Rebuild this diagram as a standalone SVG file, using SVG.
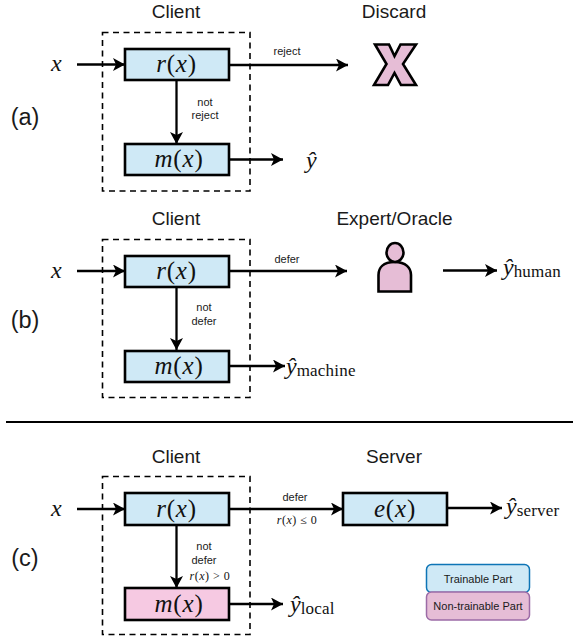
<svg xmlns="http://www.w3.org/2000/svg" width="573" height="636" viewBox="0 0 573 636">
<style>
.t{font-family:"Liberation Sans",Arial,sans-serif;fill:#1a1a1a}
.h{font-size:19px;text-anchor:middle}
.p{font-size:23.500px;text-anchor:middle}
.s{font-size:11px;text-anchor:middle}
.m{font-family:"Liberation Serif","Times New Roman",serif;fill:#111}
.mi{font-style:italic}
.b{font-size:25px;text-anchor:middle;letter-spacing:.8px}
.sub{font-size:17px;letter-spacing:.2px}
.box{stroke:#000;stroke-width:2.6}
.blue{fill:#cfe9f6}
.pink{fill:#f6c9e2}
.dash{fill:none;stroke:#000;stroke-width:1.6;stroke-dasharray:6 4.5}
.c{fill:none;stroke:#000;stroke-width:2.3;marker-end:url(#a)}
.sh{fill:#e6bdd6;stroke:#000;stroke-width:2.6;stroke-linejoin:miter}
.cond{font-size:12px;text-anchor:middle;letter-spacing:.5px}
</style>
<defs>
<marker id="a" markerUnits="userSpaceOnUse" markerWidth="14" markerHeight="14" refX="12" refY="6.500" orient="auto">
<path d="M0 0L12 6.500L0 13L3 6.500Z" fill="#000"/>
</marker>
</defs>
<g id="connectors">
<path class="c" d="M77 64.500H125"/>
<path class="c" d="M229 65H348"/>
<path class="c" d="M176.500 80V144"/>
<path class="c" d="M229 159.500H283"/>
<path class="c" d="M77 271H125"/>
<path class="c" d="M229 271H347"/>
<path class="c" d="M176.500 287V350"/>
<path class="c" d="M229 366H285"/>
<path class="c" d="M443 270.500H497"/>
<path class="c" d="M77 509H125"/>
<path class="c" d="M229 509H343"/>
<path class="c" d="M176.500 525V588"/>
<path class="c" d="M229 604H283"/>
<path class="c" d="M447 508H502"/>
<path d="M6 422H573" stroke="#000" stroke-width="2" fill="none"/>
</g>
<g id="client-a"><rect class="dash" x="102.500" y="32.500" width="147.500" height="158.500"/><text class="t h" x="176" y="18">Client</text></g>
<g id="client-b"><rect class="dash" x="102.500" y="239.500" width="147.500" height="158"/><text class="t h" x="176" y="225">Client</text></g>
<g id="client-c"><rect class="dash" x="102.500" y="476.500" width="147.500" height="158"/><text class="t h" x="176" y="463">Client</text></g>
<g id="r-a"><rect class="box blue" x="125" y="49" width="104" height="31"/><text class="m b" x="176.500" y="72"><tspan class="mi">r</tspan>(<tspan class="mi">x</tspan>)</text></g>
<g id="m-a"><rect class="box blue" x="125" y="144" width="104" height="31"/><text class="m b" x="179" y="167"><tspan class="mi">m</tspan>(<tspan class="mi">x</tspan>)</text></g>
<g id="r-b"><rect class="box blue" x="125" y="256" width="104" height="31"/><text class="m b" x="176.500" y="279"><tspan class="mi">r</tspan>(<tspan class="mi">x</tspan>)</text></g>
<g id="m-b"><rect class="box blue" x="125" y="351" width="104" height="31"/><text class="m b" x="179" y="374"><tspan class="mi">m</tspan>(<tspan class="mi">x</tspan>)</text></g>
<g id="r-c"><rect class="box blue" x="125" y="493" width="104" height="32"/><text class="m b" x="176.500" y="517"><tspan class="mi">r</tspan>(<tspan class="mi">x</tspan>)</text></g>
<g id="m-c"><rect class="box pink" x="125" y="588" width="104" height="32"/><text class="m b" x="179" y="612"><tspan class="mi">m</tspan>(<tspan class="mi">x</tspan>)</text></g>
<g id="e-c"><rect class="box blue" x="343" y="493" width="104" height="32"/><text class="m b" x="395" y="517"><tspan class="mi">e</tspan>(<tspan class="mi">x</tspan>)</text></g>
<g id="discard"><text class="t h" x="394" y="18">Discard</text>
<path class="sh" d="M375 44.500H389L394.500 56L400.500 44.500H416L403 64L416 85H401L394.500 73L388 85H374L386.500 64Z"/></g>
<g id="expert"><text class="t h" x="394.500" y="225">Expert/Oracle</text>
<path class="sh" d="M378.500 291.500V275C378.500 268 383 262 394.500 262C406 262 411 268 411 275V291.500Z"/>
<ellipse class="sh" cx="395" cy="252.500" rx="8.500" ry="9.500"/></g>
<g id="server"><text class="t h" x="394" y="463">Server</text></g>
<g id="legend">
<rect x="426.500" y="564.500" width="103" height="28" rx="5" fill="#cfe9f6" stroke="#0e75b6" stroke-width="1.500"/>
<text class="t" x="478" y="583" font-size="11" text-anchor="middle">Trainable Part</text>
<rect x="426.500" y="592" width="103" height="28" rx="5" fill="#e6bdd6" stroke="#9c6ba6" stroke-width="1.500"/>
<text class="t" x="478" y="610" font-size="11" text-anchor="middle">Non-trainable Part</text>
</g>
<g id="labels">
<text class="t p" x="25" y="125">(a)</text>
<text class="t p" x="25" y="328">(b)</text>
<text class="t p" x="25" y="566">(c)</text>
<text class="m mi" x="51" y="71" font-size="24">x</text>
<text class="m mi" x="51" y="278" font-size="24">x</text>
<text class="m mi" x="51" y="516" font-size="24">x</text>
<text class="t s" x="287" y="55">reject</text>
<text class="t s" x="205" y="106">not</text>
<text class="t s" x="205" y="119">reject</text>
<text class="t s" x="287" y="263">defer</text>
<text class="t s" x="204" y="311">not</text>
<text class="t s" x="204" y="325">defer</text>
<text class="t s" x="295" y="501">defer</text>
<text class="t s" x="204" y="550">not</text>
<text class="t s" x="204" y="564">defer</text>
<text class="m cond" x="297" y="524"><tspan class="mi">r</tspan>(<tspan class="mi">x</tspan>) ≤ 0</text>
<text class="m cond" x="210" y="580"><tspan class="mi">r</tspan>(<tspan class="mi">x</tspan>) &gt; 0</text>
<text class="m mi" x="306" y="168" font-size="24">ŷ</text>
<text class="m" x="286" y="374" font-size="24"><tspan class="mi">ŷ</tspan><tspan class="sub" dy="2">machine</tspan></text>
<text class="m" x="503" y="275" font-size="24"><tspan class="mi">ŷ</tspan><tspan class="sub" dy="2">human</tspan></text>
<text class="m" x="506" y="514" font-size="24"><tspan class="mi">ŷ</tspan><tspan class="sub" dy="2">server</tspan></text>
<text class="m" x="290" y="612" font-size="24"><tspan class="mi">ŷ</tspan><tspan class="sub" dy="2">local</tspan></text>
</g>
</svg>
